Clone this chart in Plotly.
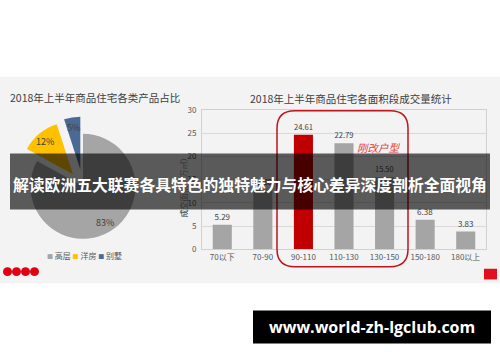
import math
import plotly.graph_objects as go

W, H = 500, 362
FONT = "Noto Sans CJK SC, Noto Sans, sans-serif"

# ---- pie: product mix ----
pie_title = "2018年上半年商品住宅各类产品占比"
pie_labels = ["高层", "洋房", "别墅"]
pie_values = [83, 12, 5]
pie_colors = ["#a5a5a5", "#ffc000", "#4a6a96"]
pie_pull = [0, 0.3, 0.33]

# ---- bars: transactions by floor-area band ----
bar_title = "2018年上半年商品住宅各面积段成交量统计"
bar_categories = ["70以下", "70-90", "90-110", "110-130", "130-150", "150-180", "180以上"]
bar_values = [5.29, 12.80, 24.61, 22.79, 15.50, 6.38, 3.83]
bar_colors = ["#a5a5a5", "#a5a5a5", "#c00000", "#a5a5a5", "#a5a5a5", "#a5a5a5", "#a5a5a5"]
y_ticks = [0, 5, 10, 15, 20, 25, 30]
y_title = "成交面积（万㎡）"
highlight_label = "刚改户型"

headline = "解读欧洲五大联赛各具特色的独特魅力与核心差异深度剖析全面视角"
site = "www.world-zh-lgclub.com"


def fx(px):
    return px / W


def fy(py):
    return 1 - py / H


# pie box (pixels): square centred on (PIE_CX, PIE_CY)
PIE_CX, PIE_CY, PIE_HALF = 83, 186, 72

fig = go.Figure()

fig.add_trace(go.Pie(
    labels=pie_labels, values=pie_values, pull=pie_pull,
    marker=dict(colors=pie_colors, line=dict(width=0)),
    sort=False, direction="clockwise", rotation=0, textinfo="none",
    domain=dict(x=[fx(PIE_CX - PIE_HALF), fx(PIE_CX + PIE_HALF)],
                y=[fy(PIE_CY + PIE_HALF), fy(PIE_CY - PIE_HALF)]),
    showlegend=False, hoverinfo="skip",
))

fig.add_trace(go.Bar(
    x=bar_categories, y=bar_values,
    marker=dict(color=bar_colors, line=dict(width=0)),
    text=[f"{v:.2f}" for v in bar_values], textposition="outside",
    textfont=dict(size=8, color="#404040", family=FONT),
    cliponaxis=False, width=0.47, showlegend=False, hoverinfo="skip",
))

fig.update_layout(
    width=W, height=H, margin=dict(l=0, r=0, t=0, b=0),
    paper_bgcolor="#ffffff", plot_bgcolor="rgba(0,0,0,0)",
    font=dict(family=FONT, color="#404040"),
    xaxis=dict(
        domain=[fx(202), fx(486)], type="category",
        showline=True, linecolor="#d0d0d0", linewidth=1, mirror=True,
        showgrid=False, ticks="", tickfont=dict(size=8, color="#595959"),
    ),
    yaxis=dict(
        domain=[fy(251), fy(107)], range=[0, 30], tickvals=y_ticks,
        showline=True, linecolor="#d0d0d0", linewidth=1, mirror=True,
        gridcolor="#d9d9d9", gridwidth=1, zeroline=False, ticks="",
        tickfont=dict(size=8, color="#595959"), ticklabelstandoff=3,
    ),
)

shapes = []
# slide background
shapes.append(dict(type="rect", xref="paper", yref="paper", layer="below",
                   x0=0, x1=1, y0=fy(286), y1=fy(73),
                   fillcolor="#f3f3f4", line=dict(width=0)))
# red dots, bottom left
for cx in [7.5, 16.5, 25.5, 34.5]:
    shapes.append(dict(type="circle", xref="paper", yref="paper",
                       x0=fx(cx - 4.5), x1=fx(cx + 4.5), y0=fy(278.5), y1=fy(269.5),
                       fillcolor="#e00012", line=dict(width=0)))
# red square, bottom right
shapes.append(dict(type="rect", xref="paper", yref="paper",
                   x0=fx(484), x1=fx(497), y0=fy(282), y1=fy(271),
                   fillcolor="#e0101c", line=dict(width=0)))

# rounded outline around the 90-150 bands
x0, x1, y0, y1, r = 277, 408, 108, 269, 18
path = (f"M {fx(x0 + r)},{fy(y0)} L {fx(x1 - r)},{fy(y0)} "
        f"Q {fx(x1)},{fy(y0)} {fx(x1)},{fy(y0 + r)} L {fx(x1)},{fy(y1 - r)} "
        f"Q {fx(x1)},{fy(y1)} {fx(x1 - r)},{fy(y1)} L {fx(x0 + r)},{fy(y1)} "
        f"Q {fx(x0)},{fy(y1)} {fx(x0)},{fy(y1 - r)} L {fx(x0)},{fy(y0 + r)} "
        f"Q {fx(x0)},{fy(y0)} {fx(x0 + r)},{fy(y0)} Z")
shapes.append(dict(type="path", xref="paper", yref="paper", path=path, layer="above",
                   line=dict(color="#c0141c", width=1.5), fillcolor="rgba(0,0,0,0)"))

# headline band
shapes.append(dict(type="rect", xref="paper", yref="paper", layer="above",
                   x0=fx(10), x1=fx(490), y0=fy(210), y1=fy(152),
                   fillcolor="rgba(0,0,0,0.63)", line=dict(width=0)))
# site box
shapes.append(dict(type="rect", xref="paper", yref="paper", layer="above",
                   x0=fx(253), x1=fx(491), y0=fy(348), y1=fy(314),
                   fillcolor="#000000", line=dict(width=0)))
fig.update_layout(shapes=shapes)

legend_text = "&nbsp;".join(
    f"<span style='color:{c};font-size:6px'>■</span> {lab}"
    for lab, c in zip(pie_labels, pie_colors)
)

annotations = [
    dict(text=pie_title, x=fx(8), y=fy(94), xanchor="left", yanchor="middle",
         font=dict(size=10.5, color="#404040")),
    dict(text=bar_title, x=fx(351), y=fy(95), xanchor="center", yanchor="middle",
         font=dict(size=10.5, color="#404040")),
    dict(text=y_title, x=fx(183), y=fy(185), xanchor="center", yanchor="middle",
         textangle=-90, font=dict(size=8, color="#333333")),
    dict(text=f"<i>{highlight_label}</i>", x=fx(379), y=fy(146), xanchor="center",
         yanchor="middle", font=dict(size=10.5, color="#e0403f")),
    dict(text=legend_text, x=fx(45), y=fy(257), xanchor="left", yanchor="middle",
         font=dict(size=8, color="#595959")),
]

# percentage labels placed inside each slice, following the pull offsets
total = sum(pie_values)
radius = PIE_HALF / (1 + max(pie_pull))
cum = 0
for v, p in zip(pie_values, pie_pull):
    mid = math.radians((cum + v / 2) / total * 360)
    cum += v
    dist = radius * (p + 0.8)
    annotations.append(dict(
        text=f"{v / total:.0%}",
        x=fx(PIE_CX + dist * math.sin(mid)), y=fy(PIE_CY - dist * math.cos(mid)),
        xanchor="center", yanchor="middle", font=dict(size=9, color="#404040"),
    ))

annotations += [
    dict(text=f"<b>{headline}</b>", x=fx(250), y=fy(184), xanchor="center",
         yanchor="middle", font=dict(size=15.8, color="#ffffff")),
    dict(text=f"<b>{site}</b>", x=fx(372), y=fy(331), xanchor="center",
         yanchor="middle", font=dict(size=16, color="#ffffff",
                                     family="Open Sans, Liberation Sans, sans-serif")),
]
for a in annotations:
    a.update(xref="paper", yref="paper", showarrow=False)
fig.update_layout(annotations=annotations)

fig.write_html("out.html")
